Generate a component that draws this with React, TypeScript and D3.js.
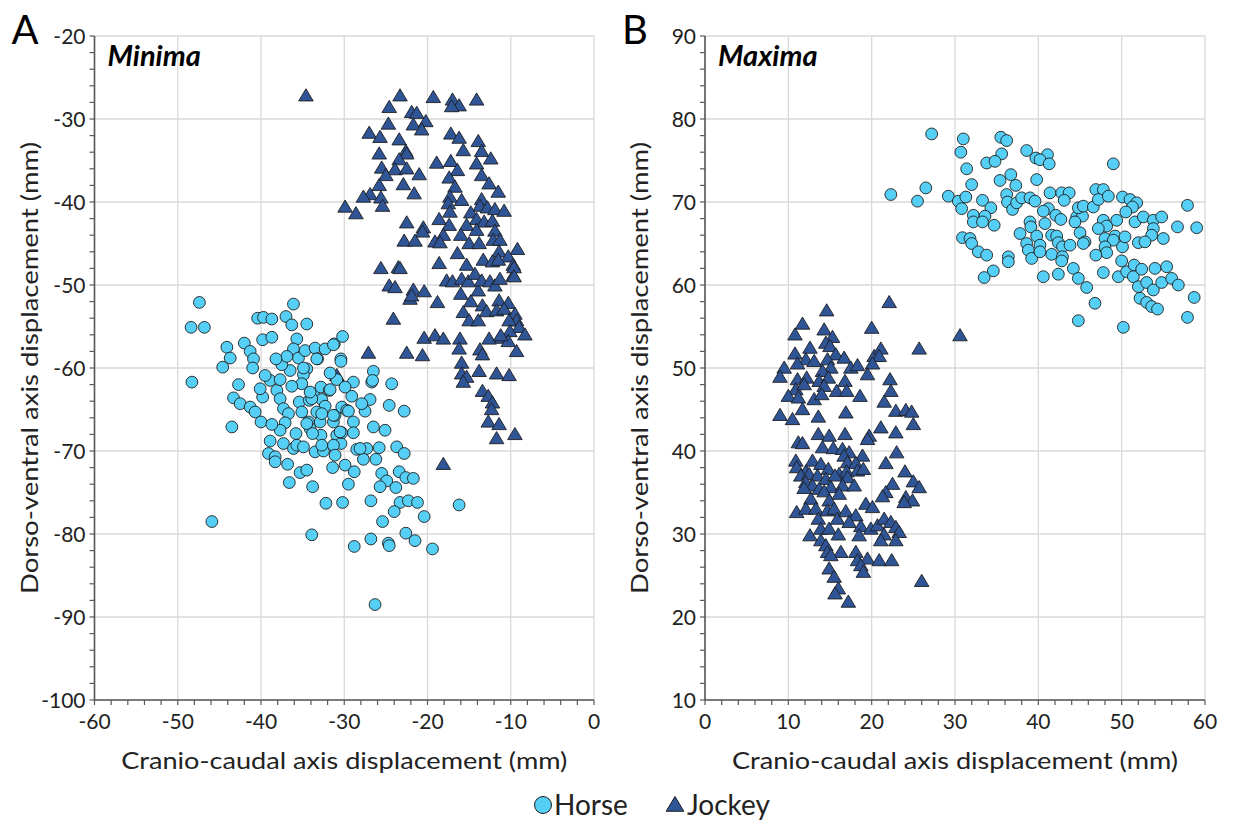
import React from 'react';
import * as d3 from 'd3';

type Pt = [number, number];

// Panel A (minima): [cranio-caudal mm, dorso-ventral mm]
const horseMinima: Pt[] = [
  [-47.4, -52.1], [-48.4, -55.1], [-46.8, -55.1], [-48.3, -61.7], [-45.9, -78.5], [-44.6, -59.9], [-44.1, -57.5],
  [-43.7, -58.8], [-43.5, -67.1], [-43.3, -63.6], [-42.7, -62.0], [-42.5, -64.3], [-42.0, -57.0], [-41.3, -58.0],
  [-40.9, -58.9], [-41.0, -60.0], [-41.3, -64.7], [-40.4, -54.0], [-39.7, -53.9], [-38.7, -54.1], [-39.8, -56.6],
  [-38.7, -56.3], [-40.7, -65.3], [-40.0, -66.5], [-39.8, -63.5], [-40.1, -62.5], [-38.9, -61.5], [-38.1, -62.7],
  [-37.7, -61.4], [-37.7, -63.7], [-37.3, -64.9], [-36.7, -65.5], [-37.1, -66.6], [-37.7, -67.5], [-38.7, -66.8],
  [-38.9, -68.8], [-39.1, -70.3], [-38.3, -70.7], [-38.3, -71.3], [-37.3, -69.1], [-36.1, -69.7], [-35.7, -69.3],
  [-36.6, -73.8], [-35.3, -72.6], [-34.5, -72.3], [-33.8, -74.3], [-33.9, -80.1], [-32.2, -76.3], [-30.2, -76.2],
  [-36.1, -52.3], [-37.0, -53.8], [-36.3, -54.8], [-34.5, -54.7], [-35.7, -56.5], [-36.1, -57.7], [-35.5, -58.8],
  [-34.7, -57.9], [-33.5, -57.6], [-32.3, -57.7], [-33.2, -58.9], [-31.2, -57.1], [-30.2, -56.2], [-30.4, -58.9],
  [-34.5, -60.1], [-36.5, -60.3], [-37.5, -59.6], [-34.9, -60.8], [-35.1, -61.9], [-36.3, -62.2], [-35.4, -64.1],
  [-34.2, -63.9], [-35.1, -65.3], [-33.7, -63.1], [-32.8, -62.3], [-31.8, -62.7], [-32.7, -63.8], [-32.3, -64.6],
  [-33.3, -65.3], [-32.9, -66.5], [-34.3, -66.5], [-34.1, -67.3], [-32.8, -68.1], [-33.5, -70.1], [-32.5, -70.0],
  [-31.3, -66.5], [-31.1, -65.7], [-30.3, -64.7], [-29.7, -65.1], [-30.9, -68.1], [-30.4, -69.1], [-31.3, -69.3],
  [-31.1, -70.5], [-31.4, -72.0], [-29.9, -71.7], [-30.9, -61.4], [-31.7, -60.6], [-30.4, -59.2], [-26.5, -60.4],
  [-26.7, -61.7], [-28.9, -61.7], [-24.3, -61.9], [-26.9, -63.8], [-24.6, -64.5], [-22.8, -65.2], [-29.5, -65.2],
  [-27.5, -65.2], [-28.9, -66.5], [-26.5, -67.1], [-25.1, -67.5], [-28.9, -67.8], [-30.3, -67.8], [-28.5, -69.8],
  [-27.3, -69.7], [-25.8, -69.6], [-23.7, -69.5], [-22.8, -70.3], [-27.7, -71.0], [-26.2, -71.0], [-28.8, -72.5],
  [-25.5, -72.7], [-23.4, -72.5], [-24.9, -73.6], [-22.6, -73.2], [-21.7, -73.3], [-29.5, -74.0], [-25.7, -74.3],
  [-23.8, -74.4], [-26.8, -76.0], [-23.3, -76.2], [-22.3, -76.0], [-21.2, -76.2], [-16.2, -76.5], [-24.0, -77.3],
  [-20.4, -77.9], [-25.4, -78.5], [-22.6, -79.9], [-26.8, -80.6], [-28.8, -81.5], [-24.7, -81.1], [-24.6, -81.4],
  [-21.5, -80.8], [-19.4, -81.8], [-26.3, -88.5], [-31.3, -57.2], [-33.3, -58.9], [-26.6, -61.5], [-34.9, -60.0],
  [-31.7, -62.6], [-33.9, -63.7], [-34.1, -62.9], [-32.7, -65.5], [-31.3, -65.7], [-34.5, -66.7], [-33.8, -67.9],
  [-30.5, -67.7], [-32.7, -69.3], [-28.1, -69.7], [-34.9, -69.5], [-36.9, -58.6], [-38.2, -58.9], [-39.5, -60.9],
  [-35.8, -67.9], [-36.8, -71.6], [-29.1, -63.4], [-27.9, -64.3], [-29.9, -62.3],
];

const jockeyMinima: Pt[] = [
  [-34.6, -27.3], [-23.3, -27.3], [-24.6, -28.7], [-19.3, -27.5], [-17.0, -27.8], [-16.2, -28.5], [-17.1, -28.6],
  [-14.1, -27.8], [-21.9, -29.3], [-21.3, -29.4], [-20.2, -30.4], [-21.7, -30.8], [-20.7, -31.4], [-24.7, -30.7],
  [-27.0, -31.8], [-25.7, -32.3], [-23.4, -32.6], [-25.8, -34.3], [-22.6, -34.0], [-22.5, -34.3], [-23.4, -35.0],
  [-25.5, -36.0], [-23.9, -36.2], [-22.5, -36.1], [-25.0, -36.9], [-21.0, -36.8], [-25.8, -38.1], [-22.9, -38.0],
  [-21.6, -39.1], [-26.9, -39.2], [-27.7, -39.5], [-25.6, -39.6], [-25.4, -40.6], [-29.9, -40.7], [-28.6, -41.5],
  [-17.2, -31.9], [-16.2, -32.4], [-13.9, -32.8], [-15.7, -33.9], [-13.5, -34.0], [-12.4, -34.9], [-14.1, -35.5],
  [-18.9, -35.4], [-17.2, -35.2], [-16.4, -36.3], [-13.5, -36.9], [-17.4, -37.2], [-12.6, -37.9], [-16.7, -38.3],
  [-11.5, -38.9], [-17.3, -39.5], [-15.9, -39.9], [-17.5, -40.3], [-13.5, -39.8], [-13.7, -40.6], [-12.8, -40.8],
  [-11.9, -41.0], [-10.8, -41.2], [-17.3, -41.3], [-14.8, -41.4], [-18.6, -42.2], [-14.1, -42.2], [-13.2, -42.5],
  [-12.2, -42.4], [-22.5, -42.6], [-17.4, -42.9], [-15.3, -42.9], [-20.5, -43.2], [-20.6, -43.7], [-14.1, -43.5],
  [-11.9, -43.6], [-18.1, -44.1], [-16.0, -44.1], [-22.8, -44.8], [-21.5, -44.8], [-19.1, -44.9], [-18.5, -45.0],
  [-15.0, -45.1], [-13.8, -45.1], [-12.1, -44.7], [-11.3, -44.7], [-9.2, -45.8], [-16.4, -46.3], [-11.4, -46.1],
  [-10.3, -46.7], [-13.3, -47.1], [-12.2, -47.3], [-11.5, -47.1], [-18.6, -47.5], [-15.3, -47.7], [-9.7, -47.7],
  [-25.6, -48.1], [-23.5, -48.0], [-23.3, -48.1], [-24.6, -50.2], [-23.9, -50.4], [-21.7, -50.7], [-20.4, -50.9],
  [-22.1, -51.8], [-21.9, -51.4], [-18.8, -52.2], [-17.7, -49.6], [-17.0, -49.7], [-16.0, -51.2], [-15.9, -49.4],
  [-15.1, -49.7], [-14.3, -48.8], [-13.9, -50.8], [-13.5, -49.6], [-12.5, -49.7], [-11.9, -50.2], [-11.3, -49.4],
  [-9.7, -49.0], [-14.8, -52.1], [-13.4, -52.6], [-11.4, -52.0], [-10.3, -52.3], [-15.7, -53.4], [-15.0, -54.4],
  [-13.9, -54.4], [-12.9, -53.3], [-11.7, -53.2], [-10.8, -53.0], [-9.5, -53.6], [-9.3, -54.4], [-10.2, -54.4],
  [-9.0, -55.2], [-8.3, -56.1], [-10.1, -55.7], [-11.3, -56.5], [-10.3, -56.9], [-12.6, -56.6], [-9.3, -58.1],
  [-24.1, -54.2], [-20.4, -56.5], [-19.1, -56.2], [-18.1, -56.6], [-16.1, -56.6], [-16.2, -57.8], [-13.7, -57.9],
  [-13.4, -58.5], [-22.5, -58.3], [-20.6, -58.6], [-27.1, -58.3], [-30.9, -61.0], [-15.9, -59.5], [-15.9, -60.8],
  [-15.3, -61.2], [-13.8, -60.5], [-15.7, -61.8], [-11.7, -60.8], [-10.2, -61.0], [-13.4, -62.9], [-12.7, -63.5],
  [-12.2, -64.3], [-12.3, -65.1], [-12.7, -66.6], [-11.4, -66.9], [-9.5, -68.1], [-11.7, -68.6], [-18.1, -71.7],
  [-9.6, -48.0], [-9.6, -49.1], [-11.2, -56.2],
];

// Panel B (maxima)
const horseMaxima: Pt[] = [
  [27.2, 78.2], [22.3, 70.9], [25.5, 70.1], [26.5, 71.7], [31.0, 77.6], [30.7, 76.0], [31.4, 74.0], [32.0, 72.1],
  [29.2, 70.7], [30.4, 70.1], [31.3, 70.6], [30.8, 69.2], [32.2, 68.4], [32.2, 67.6], [33.3, 70.2], [34.3, 69.3],
  [33.6, 68.3], [34.7, 67.2], [33.3, 67.6], [30.9, 65.7], [31.8, 65.6], [32.0, 65.0], [32.8, 64.0], [33.8, 63.6],
  [34.6, 61.7], [33.5, 60.9], [35.5, 77.8], [36.2, 77.4], [35.6, 75.8], [33.8, 74.7], [34.8, 74.9], [35.4, 72.6],
  [36.7, 73.3], [37.3, 72.0], [36.2, 70.9], [36.3, 70.0], [36.9, 69.1], [37.4, 69.9], [38.0, 70.5], [38.6, 76.2],
  [39.7, 75.3], [41.1, 75.7], [40.2, 75.1], [41.3, 74.6], [39.8, 72.7], [39.0, 70.5], [39.6, 70.1], [41.4, 71.1],
  [42.8, 71.1], [43.7, 71.1], [43.1, 70.2], [41.2, 69.2], [40.6, 68.9], [40.8, 67.4], [39.0, 67.6], [39.1, 67.0],
  [37.8, 66.2], [38.6, 65.0], [38.8, 64.2], [39.2, 63.2], [39.8, 65.9], [40.2, 64.8], [40.2, 64.0], [41.6, 66.0],
  [42.2, 65.9], [42.4, 65.1], [41.6, 63.7], [42.9, 64.6], [42.9, 63.4], [40.6, 61.0], [42.4, 61.3], [42.1, 68.4],
  [42.7, 67.9], [43.8, 64.8], [44.2, 62.0], [44.8, 60.8], [45.8, 59.7], [46.8, 57.8], [44.8, 55.7], [44.6, 68.2],
  [45.3, 68.3], [44.8, 69.3], [45.4, 69.5], [45.0, 66.3], [45.6, 65.2], [45.4, 65.0], [46.6, 69.4], [46.9, 71.5],
  [47.8, 71.5], [47.2, 70.3], [48.4, 70.7], [47.8, 67.8], [48.2, 67.1], [47.2, 66.8], [49.4, 67.8], [49.2, 65.9],
  [48.0, 65.6], [49.0, 65.4], [48.0, 64.6], [48.2, 63.9], [50.1, 64.6], [46.9, 63.6], [49.0, 74.6], [50.1, 70.6],
  [51.0, 70.3], [51.8, 69.9], [51.3, 69.4], [50.5, 68.8], [51.6, 67.6], [52.6, 68.2], [53.8, 67.8], [54.8, 68.2],
  [53.8, 66.8], [53.6, 66.0], [55.0, 65.6], [52.0, 65.1], [52.8, 65.2], [56.7, 67.0], [59.0, 66.9], [57.9, 69.6],
  [47.8, 61.5], [49.6, 61.0], [50.0, 62.9], [50.6, 61.6], [51.5, 62.4], [51.4, 61.0], [52.4, 61.9], [52.0, 59.8],
  [53.0, 60.3], [53.8, 59.4], [54.8, 60.3], [54.0, 62.0], [55.4, 62.2], [56.0, 60.8], [56.8, 60.0], [52.2, 58.4],
  [53.0, 57.9], [53.6, 57.4], [54.3, 57.1], [58.7, 58.5], [57.9, 56.1], [50.2, 54.9], [50.4, 65.8], [44.4, 67.6],
  [42.8, 62.9], [36.4, 63.4], [36.4, 62.8],
];

const jockeyMaxima: Pt[] = [
  [22.1, 57.8], [14.6, 56.8], [11.7, 55.2], [10.8, 53.9], [14.3, 54.5], [15.3, 53.6], [20.0, 54.7], [25.7, 52.2],
  [14.5, 52.9], [15.0, 52.5], [12.6, 52.3], [10.8, 51.6], [12.1, 50.9], [13.1, 50.7], [11.1, 50.4], [15.7, 51.5],
  [16.7, 51.1], [14.7, 50.9], [15.1, 49.9], [14.1, 49.5], [9.5, 49.9], [9.0, 48.8], [20.3, 51.3], [21.1, 52.2],
  [20.9, 51.3], [20.1, 50.4], [17.5, 49.9], [18.3, 50.2], [19.5, 49.1], [11.1, 48.5], [12.2, 48.7], [13.7, 48.3],
  [14.8, 48.7], [16.8, 48.3], [14.3, 47.7], [10.9, 47.3], [11.9, 47.9], [15.8, 47.1], [17.0, 47.1], [10.0, 46.5],
  [11.2, 46.3], [13.1, 46.1], [14.0, 46.7], [18.6, 46.5], [22.2, 48.5], [22.3, 47.1], [21.5, 45.8], [11.7, 44.9],
  [9.0, 44.2], [10.5, 43.7], [13.6, 44.0], [16.9, 44.5], [22.9, 44.7], [24.1, 44.8], [24.8, 44.6], [25.0, 43.1],
  [21.1, 42.7], [22.9, 42.1], [19.7, 41.7], [19.5, 41.3], [16.8, 41.9], [13.6, 41.9], [14.9, 41.7], [11.2, 40.9],
  [11.7, 40.8], [14.1, 40.3], [15.4, 40.2], [16.5, 40.1], [17.3, 39.7], [16.7, 39.3], [18.9, 39.3], [23.0, 39.7],
  [10.9, 38.7], [12.9, 38.7], [13.9, 38.3], [17.1, 38.5], [18.1, 38.4], [21.7, 38.4], [11.0, 37.9], [12.1, 37.4],
  [14.8, 37.7], [16.1, 37.1], [17.0, 37.4], [18.3, 37.5], [19.0, 37.7], [24.0, 37.4], [11.5, 36.9], [12.5, 37.1],
  [13.5, 36.9], [14.5, 36.5], [15.6, 36.9], [17.1, 36.7], [12.1, 36.1], [12.9, 35.7], [13.7, 35.3], [15.1, 35.5],
  [16.5, 35.7], [17.9, 35.7], [25.0, 36.2], [25.7, 35.5], [22.5, 35.9], [11.9, 35.4], [14.3, 35.0], [16.1, 34.7],
  [21.7, 34.9], [21.3, 34.4], [24.1, 34.3], [24.9, 33.9], [12.7, 34.1], [14.9, 33.9], [19.3, 33.5], [20.1, 33.1],
  [23.9, 33.7], [11.0, 32.5], [12.1, 32.9], [13.3, 32.9], [14.7, 32.7], [13.6, 31.7], [15.5, 32.9], [15.9, 31.7],
  [16.9, 32.6], [18.1, 32.1], [17.3, 31.3], [18.7, 30.8], [19.9, 30.5], [20.7, 30.9], [21.5, 31.7], [22.3, 31.3],
  [22.9, 30.7], [23.3, 30.1], [21.5, 29.8], [21.1, 29.1], [22.9, 29.1], [18.5, 29.7], [12.6, 29.7], [13.9, 30.5],
  [14.9, 30.5], [16.0, 29.8], [13.9, 29.1], [14.5, 28.5], [14.7, 27.7], [16.3, 27.7], [18.1, 27.7], [18.3, 26.7],
  [19.5, 26.9], [20.9, 26.7], [22.4, 26.7], [18.7, 26.1], [19.0, 25.3], [14.9, 25.7], [15.5, 24.7], [16.0, 23.3],
  [15.6, 22.7], [17.2, 21.7], [26.0, 24.2], [15.1, 27.3], [30.6, 53.8],
];

const xTicksA = [-60, -50, -40, -30, -20, -10, 0];
const yTicksA = [-20, -30, -40, -50, -60, -70, -80, -90, -100];
const xTicksB = [0, 10, 20, 30, 40, 50, 60];
const yTicksB = [90, 80, 70, 60, 50, 40, 30, 20, 10];

const FONT = 'Lato, "Open Sans", sans-serif';
const HORSE_FILL = '#55cff5';
const JOCKEY_FILL = '#2f5597';
const MARK_STROKE = '#1e1e1e';
const AXIS = '#595959';
const GRID = '#d9d9d9';

const triPath = (s: number) => {
  const w = s * 0.52;
  const top = -s * 0.56;
  const bot = s * 0.31;
  return `M0,${top}L${w},${bot}L${-w},${bot}Z`;
};

interface PanelProps {
  letter: string;
  title: string;
  horse: Pt[];
  jockey: Pt[];
  xDomain: [number, number];
  yDomain: [number, number];
  xTicks: number[];
  yTicks: number[];
  left: number;
  right: number;
  top: number;
  bottom: number;
}

const Panel: React.FC<PanelProps> = ({ letter, title, horse, jockey, xDomain, yDomain, xTicks, yTicks, left, right, top, bottom }) => {
  const x = d3.scaleLinear().domain(xDomain).range([left, right]);
  const y = d3.scaleLinear().domain(yDomain).range([bottom, top]);
  const minorX = d3.range(xDomain[0], xDomain[1] + 0.001, 2);
  const minorY = d3.range(yDomain[0], yDomain[1] + 0.001, 2);
  const midX = (left + right) / 2;
  const midY = (top + bottom) / 2;

  return (
    <g>
      {/* grid */}
      {xTicks.map((t) => (
        <line key={'gx' + t} x1={x(t)} x2={x(t)} y1={top} y2={bottom} stroke={GRID} strokeWidth={1.3} />
      ))}
      {yTicks.map((t) => (
        <line key={'gy' + t} x1={left} x2={right} y1={y(t)} y2={y(t)} stroke={GRID} strokeWidth={1.3} />
      ))}

      {/* minor + major ticks */}
      {minorX.map((t) => (
        <line key={'tx' + t} x1={x(t)} x2={x(t)} y1={bottom} y2={bottom + 5} stroke={AXIS} strokeWidth={1.2} />
      ))}
      {minorY.map((t) => (
        <line key={'ty' + t} x1={left - 5} x2={left} y1={y(t)} y2={y(t)} stroke={AXIS} strokeWidth={1.2} />
      ))}
      <line x1={left} x2={right} y1={bottom} y2={bottom} stroke={AXIS} strokeWidth={1.6} />
      <line x1={left} x2={left} y1={top} y2={bottom} stroke={AXIS} strokeWidth={1.6} />

      {/* tick labels */}
      {xTicks.map((t) => (
        <text key={'lx' + t} x={x(t)} y={bottom + 29} textAnchor="middle" fontSize={21} fontFamily={FONT} fill="#222">
          {t}
        </text>
      ))}
      {yTicks.map((t) => (
        <text key={'ly' + t} x={left - 9} y={y(t) + 7.5} textAnchor="end" fontSize={21} fontFamily={FONT} fill="#222">
          {t}
        </text>
      ))}

      {/* axis titles */}
      <text x={midX} y={bottom + 69} textAnchor="middle" fontSize={24} fontFamily={FONT} fill="#222"
        textLength={446} lengthAdjust="spacingAndGlyphs">
        Cranio-caudal axis displacement (mm)
      </text>
      <text
        transform={`translate(${left - 57},${midY}) rotate(-90)`}
        textAnchor="middle"
        fontSize={24}
        fontFamily={FONT}
        fill="#222"
        textLength={452}
        lengthAdjust="spacingAndGlyphs"
      >
        Dorso-ventral axis displacement (mm)
      </text>

      {/* marks */}
      {jockey.map((d, i) => (
        <path key={'j' + i} d={triPath(14)} transform={`translate(${x(d[0])},${y(d[1])})`} fill={JOCKEY_FILL} stroke={MARK_STROKE} strokeWidth={0.9} />
      ))}
      {horse.map((d, i) => (
        <circle key={'h' + i} cx={x(d[0])} cy={y(d[1])} r={5.9} fill={HORSE_FILL} stroke={MARK_STROKE} strokeWidth={0.9} />
      ))}

      {/* panel letter + title */}
      <text x={left - 83} y={top + 8} fontSize={40} fontFamily={FONT} fill="#000">
        {letter}
      </text>
      <text x={left + 13} y={top + 30} fontSize={29} fontFamily={FONT} fontWeight="bold" fontStyle="italic" fill="#000">
        {title}
      </text>
    </g>
  );
};

export default function App() {
  return (
    <svg width={1233} height={820} style={{ position: 'absolute', left: 0, top: 0, background: '#fff' }}>
      <rect width={1233} height={820} fill="#fff" />
      <Panel
        letter="A"
        title="Minima"
        horse={horseMinima}
        jockey={jockeyMinima}
        xDomain={[-60, 0]}
        yDomain={[-100, -20]}
        xTicks={xTicksA}
        yTicks={yTicksA}
        left={94.5}
        right={594}
        top={36}
        bottom={700}
      />
      <Panel
        letter="B"
        title="Maxima"
        horse={horseMaxima}
        jockey={jockeyMaxima}
        xDomain={[0, 60]}
        yDomain={[10, 90]}
        xTicks={xTicksB}
        yTicks={yTicksB}
        left={705}
        right={1205}
        top={36}
        bottom={700}
      />
      {/* legend */}
      <circle cx={543} cy={805} r={8.5} fill={HORSE_FILL} stroke={MARK_STROKE} strokeWidth={1} />
      <text x={554} y={815} fontSize={28} fontFamily={FONT} fill="#222">Horse</text>
      <path d={triPath(17)} transform="translate(675,806)" fill={JOCKEY_FILL} stroke={MARK_STROKE} strokeWidth={1} />
      <text x={687} y={815} fontSize={28} fontFamily={FONT} fill="#222">Jockey</text>
    </svg>
  );
}
